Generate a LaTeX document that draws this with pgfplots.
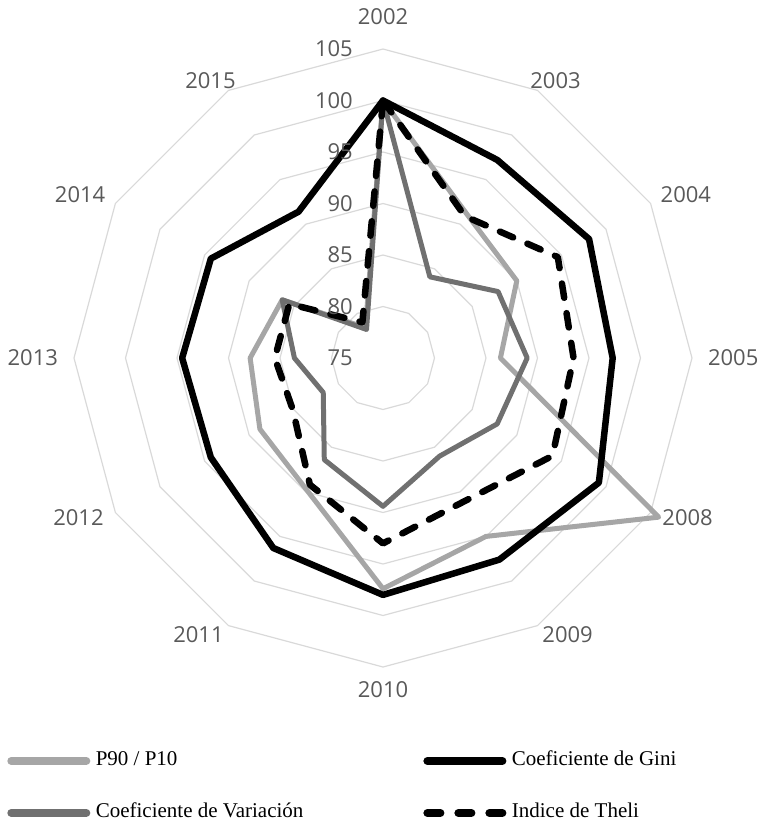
\documentclass[border=0pt]{standalone}
\usepackage{fontspec}
\setmainfont{Open Sans}
\newfontfamily\legfont{Liberation Serif}
\usepackage{pgfplots}
\pgfplotsset{compat=1.18}
\usepackage{pgfplotstable}
\usepgfplotslibrary{polar}
\definecolor{ringgray}{HTML}{D9D9D9}
\definecolor{lblgray}{HTML}{595959}
\definecolor{ptgray}{HTML}{A6A6A6}
\definecolor{cvgray}{HTML}{707070}

% i = category index (clockwise from top); last row closes the polygon
\pgfplotstableread{
i  year p90   gini  cv    theil
0  2002 100.0 100.0 100.0 100.0
1  2003 91.2  97.2  84.1  90.9
2  2004 90.0  98.1  87.9  94.6
3  2005 86.4  97.3  89.0  93.5
4  2008 105.9 99.2  87.8  94.0
5  2009 95.0  97.6  86.0  91.0
6  2010 97.4  98.0  89.4  93.0
7  2011 89.8  96.3  86.4  89.2
8  2012 88.8  94.3  81.7  85.1
9  2013 87.9  94.5  83.6  85.5
10 2014 86.3  94.3  86.3  85.5
11 2015 78.4  91.4  78.2  79.0
12 2002 100.0 100.0 100.0 100.0
}\radardata

% grid rings: 12-gon vertices at each category angle
\pgfplotstableread{
ang  r80 r85 r90 r95 r100 r105
90   5   10  15  20  25   30
60   5   10  15  20  25   30
30   5   10  15  20  25   30
0    5   10  15  20  25   30
-30  5   10  15  20  25   30
-60  5   10  15  20  25   30
-90  5   10  15  20  25   30
-120 5   10  15  20  25   30
-150 5   10  15  20  25   30
-180 5   10  15  20  25   30
-210 5   10  15  20  25   30
-240 5   10  15  20  25   30
-270 5   10  15  20  25   30
}\gridangles

\begin{document}
\begin{tikzpicture}
\useasboundingbox (0,0) rectangle (760pt,-821pt);
\begin{polaraxis}[
  at={(383pt,-358pt)}, anchor=origin,
  scale only axis, width=659.2pt, height=659.2pt,
  xmin=0, xmax=360, ymin=0, ymax=32,
  hide axis, clip=false,
  legend columns=2,
  legend cell align=left,
  legend style={at={(-0.0699,-0.0961)}, anchor=north west, draw=none, fill=none,
    inner sep=0pt, outer sep=0pt, row sep=32pt,
    font=\legfont\fontsize{21}{25}\selectfont,
    nodes={inner sep=0pt, text height=15pt, text depth=5pt},
    /tikz/every odd column/.append style={column sep=5.5pt},
    /tikz/column 2/.append style={column sep=120pt}},
  legend image code/.code={\draw[#1, line width=8pt] (0pt,0pt) -- (75pt,0pt);},
]
\pgfplotsinvokeforeach{80,85,90,95,100,105}{
  \addplot[ringgray, line width=1.2pt, forget plot] table[x=ang, y=r#1] {\gridangles};
}
\addplot[ptgray, line width=5pt, line join=round, line cap=round]
  table[x expr=90-30*\thisrow{i}, y expr=\thisrow{p90}-75] {\radardata};
\addlegendentry{P90 / P10}
\addplot[black, line width=6.5pt, line join=round, line cap=round]
  table[x expr=90-30*\thisrow{i}, y expr=\thisrow{gini}-75] {\radardata};
\addlegendentry{Coeficiente de Gini}
\addplot[cvgray, line width=5pt, line join=round, line cap=round]
  table[x expr=90-30*\thisrow{i}, y expr=\thisrow{cv}-75] {\radardata};
\addlegendentry{Coeficiente de Variación}
\addplot[black, line width=6.5pt, line join=round, line cap=round, dash pattern=on 14.5pt off 15.5pt,
  legend image code/.code={\draw[black, line width=8pt, line cap=round, dash pattern=on 13pt off 18pt] (0pt,0pt) -- (75pt,0pt);}]
  table[x expr=90-30*\thisrow{i}, y expr=\thisrow{theil}-75] {\radardata};
\addlegendentry{Indice de Theli}

% radial axis labels
\begin{scope}[every node/.style={anchor=east, xshift=-30pt, inner sep=0pt, text=lblgray, font=\fontsize{22}{26}\selectfont}]
\node at (axis cs:90,0) {75};
\node at (axis cs:90,5) {80};
\node at (axis cs:90,10) {85};
\node at (axis cs:90,15) {90};
\node at (axis cs:90,20) {95};
\node at (axis cs:90,25) {100};
\node at (axis cs:90,30) {105};
\end{scope}
% category labels
\begin{scope}[every node/.style={anchor=center, inner sep=0pt, text=lblgray, font=\fontsize{22}{26}\selectfont}]
\node at (axis cs:90,33.1) {2002};
\node at (axis cs:58.1,31.7) {2003};
\node at (axis cs:28.3,33.4) {2004};
\node at (axis cs:0,34.0) {2005};
\node at (axis cs:-27.7,33.4) {2008};
\node at (axis cs:-56.3,32.3) {2009};
\node at (axis cs:-90,32.2) {2010};
\node at (axis cs:-123.7,32.3) {2011};
\node at (axis cs:-152.3,33.4) {2012};
\node at (axis cs:180,34.0) {2013};
\node at (axis cs:151.7,33.4) {2014};
\node at (axis cs:121.9,31.7) {2015};
\end{scope}
\end{polaraxis}
\end{tikzpicture}
\end{document}
